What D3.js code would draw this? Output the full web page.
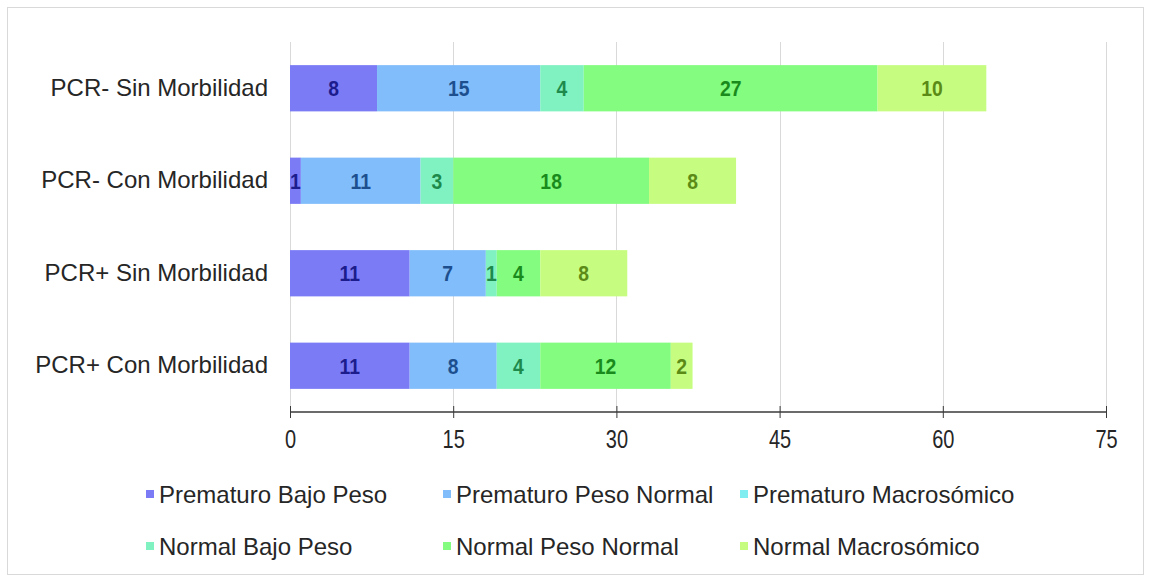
<!DOCTYPE html>
<html>
<head>
<meta charset="utf-8">
<script src="https://cdn.jsdelivr.net/npm/d3@7/dist/d3.min.js"></script>
<style>
  html, body { margin: 0; padding: 0; background: #ffffff; }
  svg { display: block; font-family: Arial, "Liberation Sans", sans-serif; }
</style>
</head>
<body>
<svg id="chart" width="1151" height="579"></svg>
<script>
// Groups shown on the vertical axis, top to bottom
const categories = [
  "PCR- Sin Morbilidad",
  "PCR- Con Morbilidad",
  "PCR+ Sin Morbilidad",
  "PCR+ Con Morbilidad"
];

// Birth-outcome series, stacked left to right
const seriesNames = [
  "Prematuro Bajo Peso",
  "Prematuro Peso Normal",
  "Prematuro Macrosómico",
  "Normal Bajo Peso",
  "Normal Peso Normal",
  "Normal Macrosómico"
];

// Counts per series, one value per category (same order as categories)
const prematuroBajoPeso    = [8, 1, 11, 11];
const prematuroPesoNormal  = [15, 11, 7, 8];
const prematuroMacrosomico = [0, 0, 0, 0];
const normalBajoPeso       = [4, 3, 1, 4];
const normalPesoNormal     = [27, 18, 4, 12];
const normalMacrosomico    = [10, 8, 8, 2];

const xTicks = [0, 15, 30, 45, 60, 75];

const seriesValues = [
  prematuroBajoPeso, prematuroPesoNormal, prematuroMacrosomico,
  normalBajoPeso, normalPesoNormal, normalMacrosomico
];

const fills  = ["#7b7bf6", "#80bdfa", "#80eef0", "#80f2c2", "#84fc80", "#c6fd80"];
const inkCol = ["#1c1c8c", "#1d4f8e", "#1d7f86", "#1d8a4c", "#198a1c", "#5b8a16"];

const rows = categories.map((c, i) => {
  const r = { category: c };
  seriesNames.forEach((s, j) => { r[s] = seriesValues[j][i]; });
  return r;
});

const stacked = d3.stack().keys(seriesNames)(rows);

const svg = d3.select("#chart");

// outer frame
svg.append("rect")
  .attr("x", 7.5).attr("y", 7.5)
  .attr("width", 1136).attr("height", 567)
  .attr("fill", "#ffffff")
  .attr("stroke", "#d9d9d9");

const x = d3.scaleLinear().domain([0, 75]).range([290, 1106]);
const y = d3.scaleBand().domain(categories).range([42, 412])
  .paddingInner(0.5).paddingOuter(0.25);

// vertical gridlines
svg.append("g")
  .selectAll("line")
  .data(xTicks)
  .join("line")
  .attr("x1", d => Math.round(x(d)) + 0.5)
  .attr("x2", d => Math.round(x(d)) + 0.5)
  .attr("y1", 42).attr("y2", 412)
  .attr("stroke", "#d9d9d9")
  .attr("stroke-width", 1);

// stacked bars
const layers = svg.append("g")
  .selectAll("g")
  .data(stacked)
  .join("g")
  .attr("fill", (d, i) => fills[i]);

layers.selectAll("rect")
  .data(d => d)
  .join("rect")
  .attr("x", d => x(d[0]))
  .attr("y", d => y(d.data.category))
  .attr("width", d => x(d[1]) - x(d[0]))
  .attr("height", y.bandwidth());

// value labels inside segments
svg.append("g")
  .selectAll("g")
  .data(stacked)
  .join("g")
  .each(function (layer, i) {
    d3.select(this).selectAll("text")
      .data(layer.filter(d => d[1] - d[0] > 0))
      .join("text")
      .attr("transform", d => `translate(${(x(d[0]) + x(d[1])) / 2},${y(d.data.category) + y.bandwidth() / 2}) scale(0.88,1)`)
      .attr("dy", "0.36em")
      .attr("text-anchor", "middle")
      .attr("font-size", 22)
      .attr("font-weight", "bold")
      .attr("fill", inkCol[i])
      .text(d => d[1] - d[0]);
  });

// category labels
const yAxis = d3.axisLeft(y).tickSize(0).tickPadding(22);
const gy = svg.append("g").attr("transform", "translate(290,0)").call(yAxis);
gy.select(".domain").remove();
gy.selectAll("text")
  .attr("font-size", 24)
  .attr("fill", "#262626")
  .attr("font-family", "Arial, 'Liberation Sans', sans-serif");

// horizontal value axis
const xAxis = d3.axisBottom(x).tickValues(xTicks).tickSize(6).tickPadding(12);
const gx = svg.append("g").attr("transform", "translate(0,412)").call(xAxis);
gx.select(".domain").attr("stroke", "#3a3a3a").attr("stroke-width", 1.5)
  .attr("d", `M${x(0)},0H${x(75)}`);
gx.selectAll(".tick line").attr("stroke", "#3a3a3a").attr("y1", -6).attr("y2", 6);
gx.selectAll(".tick text")
  .attr("font-size", 25)
  .attr("fill", "#262626")
  .attr("transform", "scale(0.8,1)")
  .attr("font-family", "Arial, 'Liberation Sans', sans-serif");

// legend: 3 columns, 2 rows
const legend = svg.append("g")
  .selectAll("g")
  .data(seriesNames)
  .join("g")
  .attr("transform", (d, i) => `translate(${146 + (i % 3) * 297},${494 + Math.floor(i / 3) * 52})`);

legend.append("rect")
  .attr("x", 0).attr("y", -4)
  .attr("width", 8).attr("height", 8)
  .attr("fill", (d, i) => fills[i]);

legend.append("text")
  .attr("x", 13)
  .attr("dy", "0.36em")
  .attr("font-size", 24)
  .attr("fill", "#262626")
  .text(d => d);
</script>
</body>
</html>
